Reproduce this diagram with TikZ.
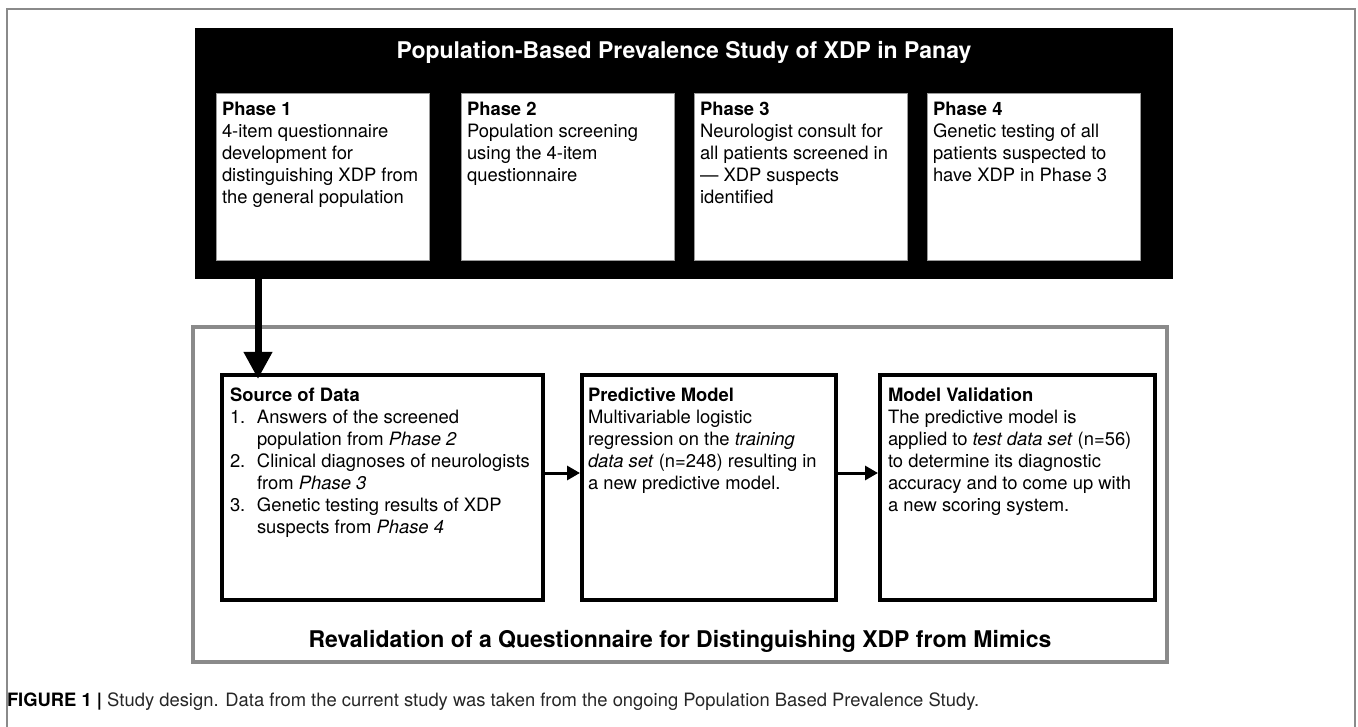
\documentclass[tikz,border=0pt]{standalone}
\usepackage{fontspec}
\setmainfont{TeX Gyre Heros}
\usetikzlibrary{arrows.meta}
\definecolor{framegray}{HTML}{8A8A8A}
\definecolor{boxgray}{HTML}{9A9A9A}
\begin{document}
\begin{tikzpicture}[x=1pt,y=-1pt,
  every node/.style={inner sep=0pt, outer sep=0pt},
  bodyfont/.style={font=\fontsize{18.4}{21.9}\selectfont},
  phasebox/.style={draw=boxgray, line width=0.8pt, fill=white, anchor=north west,
    minimum width=213pt, minimum height=167pt},
  stagebox/.style={draw=black, line width=4pt, fill=white, anchor=north west,
    minimum height=225pt},
  boxtext/.style={bodyfont, anchor=north west, align=left, text=black},
  headtitle/.style={font=\bfseries\fontsize{23}{27}\selectfont},
  bigarrow/.style={line width=7pt, -{Triangle[length=27pt, width=27pt]}},
  flowarrow/.style={line width=3pt, -{Triangle[length=13pt, width=14pt]}, shorten >=2pt}
]
\useasboundingbox (0,0) rectangle (1358,727);

% page frame (open at the bottom)
\draw[framegray, line width=2pt] (7,727) -- (7,9) -- (1355,9) -- (1355,727);

% prevalence study block
\node[fill=black, anchor=north west, minimum width=978pt, minimum height=251pt] (study) at (195,28) {};
\node[headtitle, text=white] (studytitle) at (684,52) {Population-Based Prevalence Study of XDP in Panay};

\node[phasebox] (p1) at (216,93) {};
\node[phasebox] (p2) at (461,93) {};
\node[phasebox] (p3) at (694,93) {};
\node[phasebox] (p4) at (927,93) {};

\node[boxtext] (p1t) at ([shift={(6,9)}]p1.north west)
  {\textbf{Phase 1}\\4-item questionnaire\\development for\\distinguishing XDP from\\the general population};
\node[boxtext] (p2t) at ([shift={(6,9)}]p2.north west)
  {\textbf{Phase 2}\\Population screening\\using the 4-item\\questionnaire};
\node[boxtext] (p3t) at ([shift={(6,9)}]p3.north west)
  {\textbf{Phase 3}\\Neurologist consult for\\all patients screened in\\— XDP suspects\\identified};
\node[boxtext] (p4t) at ([shift={(6,9)}]p4.north west)
  {\textbf{Phase 4}\\Genetic testing of all\\patients suspected to\\have XDP in Phase 3};

% revalidation block
\node[draw=framegray, line width=3.5pt, fill=white, anchor=north west,
  minimum width=974pt, minimum height=335pt] (reval) at (193,327) {};
\node[headtitle] (revaltitle) at (680,641) {Revalidation of a Questionnaire for Distinguishing XDP from Mimics};

\node[stagebox, minimum width=321pt] (src) at (222,375) {};
\node[stagebox, minimum width=254pt] (pred) at (582,375) {};
\node[stagebox, minimum width=275pt] (valid) at (880,375) {};

\node[boxtext] (srct) at ([shift={(8,13)}]src.north west)
  {\textbf{Source of Data}\\
   \makebox[27pt][l]{1.}Answers of the screened\\
   \hspace*{27pt}population from \textit{Phase 2}\\
   \makebox[27pt][l]{2.}Clinical diagnoses of neurologists\\
   \hspace*{27pt}from \textit{Phase 3}\\
   \makebox[27pt][l]{3.}Genetic testing results of XDP\\
   \hspace*{27pt}suspects from \textit{Phase 4}};
\node[boxtext] (predt) at ([shift={(6,13)}]pred.north west)
  {\textbf{Predictive Model}\\Multivariable logistic\\regression on the \textit{training}\\
   \textit{data set} (n=248) resulting in\\a new predictive model.};
\node[boxtext] (validt) at ([shift={(8,13)}]valid.north west)
  {\textbf{Model Validation}\\The predictive model is\\applied to \textit{test data set} (n=56)\\
   to determine its diagnostic\\accuracy and to come up with\\a new scoring system.};

% connectors
\coordinate (dropx) at (258,0);
\coordinate (flowy) at (0,473);
\draw[bigarrow] (study.south -| dropx) -- ([yshift=-4pt]src.north -| dropx);
\draw[flowarrow] (src.east |- flowy) -- (pred.west |- flowy);
\draw[flowarrow] (pred.east |- flowy) -- (valid.west |- flowy);

% caption
\node[anchor=west, font=\fontsize{18.4}{22}\selectfont, text=black!85] (caption) at (7,702)
  {\textbf{\color{black}FIGURE 1 |} Study design. Data from the current study was taken from the ongoing Population Based Prevalence Study.};
\end{tikzpicture}
\end{document}
